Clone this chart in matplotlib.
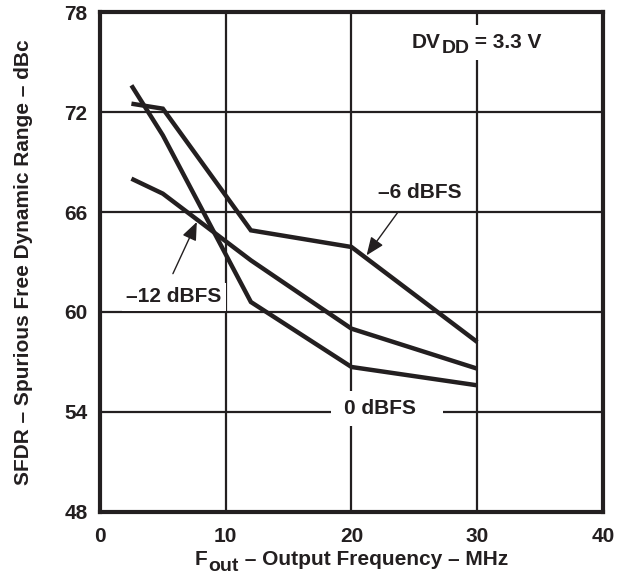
import matplotlib.pyplot as plt
from matplotlib.patches import Rectangle

# data
freq = [2.5, 5, 12, 20, 30]
sfdr_0dbfs = [73.6, 70.6, 60.6, 56.7, 55.6]
sfdr_m6dbfs = [72.5, 72.2, 64.9, 63.9, 58.2]
sfdr_m12dbfs = [68.0, 67.1, 63.1, 59.0, 56.6]

x_ticks = [0, 10, 20, 30, 40]
y_ticks = [48, 54, 60, 66, 72, 78]

ink = "#231f20"
font_size = 15
sub_size = 14

plt.rcParams["font.family"] = ["Liberation Sans", "DejaVu Sans"]
plt.rcParams["font.weight"] = "bold"

fig = plt.figure(figsize=(6.21, 5.83), dpi=100)
ax = fig.add_axes([0.161, 0.1218, 0.810, 0.8576])

for ys in (sfdr_0dbfs, sfdr_m6dbfs, sfdr_m12dbfs):
    ax.plot(freq, ys, color=ink, lw=3.2, solid_joinstyle="miter",
            solid_capstyle="butt", zorder=3)

ax.set_xlim(0, 40)
ax.set_ylim(48, 78)
ax.set_xticks(x_ticks)
ax.set_yticks(y_ticks)
ax.grid(True, color=ink, lw=1.6, zorder=1)
ax.set_axisbelow(True)

for s in ax.spines.values():
    s.set_linewidth(3)
    s.set_color(ink)
    s.set_zorder(5)
ax.tick_params(axis="both", length=0, labelsize=font_size, colors=ink)
ax.tick_params(axis="y", pad=9)
ax.tick_params(axis="x", pad=11)
for lab in ax.get_xticklabels() + ax.get_yticklabels():
    lab.set_fontweight("bold")

ax.set_ylabel("SFDR – Spurious Free Dynamic Range – dBc",
              fontsize=font_size, fontweight="bold", color=ink)
ax.yaxis.set_label_coords(-0.133, 0.5)


def sub_label(x, y, main, sub, rest, drop=4.0):
    # main text, subscript, then the rest back on the same baseline
    tr = fig.transFigure
    t1 = fig.text(x, y, main, transform=tr, fontsize=font_size,
                  fontweight="bold", color=ink, va="baseline", zorder=6)
    t2 = fig.add_artist(plt.Annotation(
        sub, xy=(1, y), xycoords=(t1, tr), xytext=(0.3, -drop),
        textcoords="offset points", fontsize=sub_size, fontweight="bold",
        color=ink, va="baseline", zorder=6))
    fig.add_artist(plt.Annotation(
        rest, xy=(1, y), xycoords=(t2, tr), xytext=(0, 0),
        textcoords="offset points", fontsize=font_size, fontweight="bold",
        color=ink, va="baseline", zorder=6))


# x label built from pieces so the subscript keeps a large size
sub_label(195 / 621, 1 - 565 / 583, "F", "out", " – Output Frequency – MHz",
          drop=4.5)

# DVDD note, with a white gap in the 30 MHz grid line
ax.add_patch(Rectangle((29.4, 75.1), 1.2, 2.1, fc="white", ec="none",
                       zorder=2))
sub_label(412 / 621, 1 - 48 / 583, "DV", "DD", " = 3.3 V", drop=3.6)

# curve labels
ax.text(25.4, 67.15, "–6 dBFS", fontsize=font_size, fontweight="bold",
        color=ink, ha="center", va="center", zorder=4)
ax.text(5.9, 60.9, "–12 dBFS", fontsize=font_size, fontweight="bold",
        color=ink, ha="center", va="center", zorder=4,
        bbox=dict(boxstyle="square,pad=0.2", fc="white", ec="none"))
ax.add_patch(Rectangle((18.4, 53.15), 8.9, 2.1, fc="white", ec="none",
                       zorder=2))
ax.text(22.3, 54.2, "0 dBFS", fontsize=font_size, fontweight="bold",
        color=ink, ha="center", va="center", zorder=4)

arrow = dict(arrowstyle="-|>,head_length=1.1,head_width=0.45",
             color=ink, lw=1.0, shrinkA=0, shrinkB=0)
ax.annotate("", xy=(21.2, 63.4), xytext=(23.7, 66.0), arrowprops=arrow,
            zorder=4)
ax.annotate("", xy=(7.7, 65.4), xytext=(5.8, 62.3), arrowprops=arrow,
            zorder=4)

plt.savefig("out.png", dpi=100)
